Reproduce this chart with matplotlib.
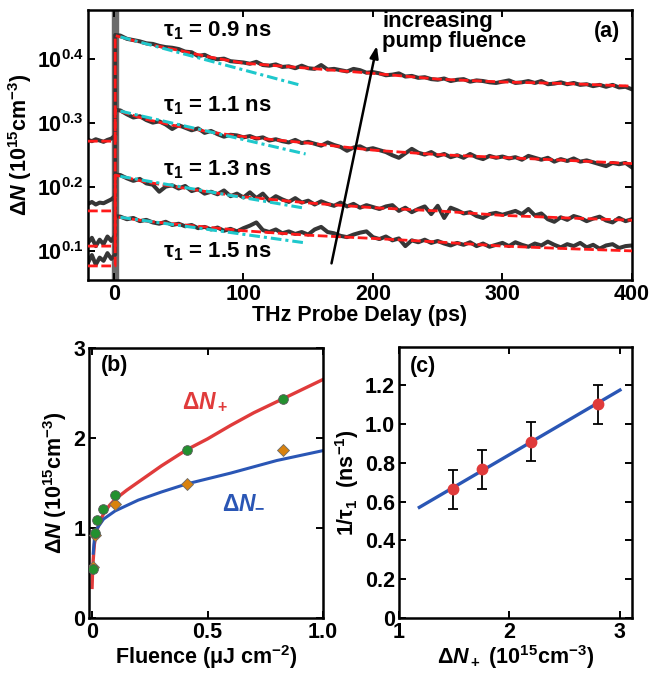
import numpy as np
import matplotlib
matplotlib.use("Agg")
import matplotlib.pyplot as plt
from matplotlib.ticker import NullLocator

plt.rcParams['font.family'] = ['Liberation Sans', 'DejaVu Sans']
plt.rcParams['font.weight'] = 'bold'
plt.rcParams['mathtext.fontset'] = 'custom'
plt.rcParams['mathtext.rm'] = 'Liberation Sans:bold'
plt.rcParams['mathtext.it'] = 'Liberation Sans:bold:italic'
plt.rcParams['mathtext.bf'] = 'Liberation Sans:bold'
plt.rcParams['mathtext.default'] = 'it'

# ---------------- Panel (a) data: log10(dN) ----------------
t_pre = [-20, -17, -14, -11, -8, -5, -2, 1, 1]
t_post = np.arange(5, 405, 5)

pre1 = [0.274, 0.272, 0.275, 0.273, 0.271, 0.274, 0.276, 0.281, 0.438]
pre2 = [0.174, 0.177, 0.173, 0.176, 0.175, 0.178, 0.181, 0.186, 0.321]
pre3 = [0.113, 0.121, 0.108, 0.118, 0.111, 0.123, 0.116, 0.125, 0.220]
pre4 = [0.082, 0.094, 0.079, 0.090, 0.085, 0.097, 0.088, 0.095, 0.155]

post1 = [0.437, 0.432, 0.430, 0.428, 0.425, 0.424, 0.421, 0.419, 0.418, 0.416,
         0.412, 0.411, 0.405, 0.407, 0.402, 0.400, 0.401, 0.397, 0.396, 0.395,
         0.393, 0.396, 0.391, 0.390, 0.392, 0.388, 0.389, 0.386, 0.390, 0.386,
         0.385, 0.391, 0.384, 0.385, 0.383, 0.381, 0.385, 0.383, 0.379, 0.380,
         0.378, 0.375, 0.376, 0.378, 0.373, 0.374, 0.371, 0.372, 0.369, 0.368,
         0.370, 0.366, 0.368, 0.369, 0.365, 0.367, 0.366, 0.364, 0.363, 0.365,
         0.367, 0.363, 0.364, 0.366, 0.363, 0.366, 0.361, 0.362, 0.364, 0.361,
         0.363, 0.360, 0.361, 0.358, 0.360, 0.357, 0.360, 0.356, 0.357, 0.353]
post2 = [0.320, 0.314, 0.309, 0.311, 0.305, 0.301, 0.303, 0.298, 0.291, 0.297,
         0.293, 0.289, 0.292, 0.285, 0.288, 0.283, 0.279, 0.282, 0.281, 0.278,
         0.280, 0.276, 0.278, 0.273, 0.275, 0.272, 0.270, 0.274, 0.269, 0.271,
         0.268, 0.265, 0.270, 0.266, 0.263, 0.257, 0.262, 0.264, 0.259, 0.261,
         0.258, 0.255, 0.250, 0.246, 0.253, 0.260, 0.254, 0.251, 0.255, 0.249,
         0.252, 0.247, 0.250, 0.246, 0.252, 0.247, 0.244, 0.249, 0.246, 0.248,
         0.245, 0.247, 0.243, 0.249, 0.246, 0.243, 0.246, 0.240, 0.244, 0.241,
         0.245, 0.240, 0.242, 0.239, 0.236, 0.233, 0.238, 0.236, 0.238, 0.231]
post3 = [0.219, 0.214, 0.210, 0.213, 0.206, 0.204, 0.193, 0.201, 0.203, 0.198,
         0.202, 0.194, 0.197, 0.190, 0.193, 0.189, 0.195, 0.186, 0.190, 0.184,
         0.192, 0.183, 0.190, 0.179, 0.186, 0.181, 0.177, 0.183, 0.176, 0.179,
         0.173, 0.178, 0.174, 0.171, 0.176, 0.170, 0.174, 0.168, 0.172, 0.169,
         0.166, 0.170, 0.172, 0.163, 0.168, 0.161, 0.166, 0.170, 0.158, 0.171,
         0.152, 0.168, 0.164, 0.159, 0.161, 0.155, 0.152, 0.158, 0.160, 0.157,
         0.160, 0.163, 0.158, 0.166, 0.156, 0.159, 0.150, 0.146, 0.153, 0.149,
         0.155, 0.152, 0.147, 0.151, 0.154, 0.148, 0.145, 0.152, 0.147, 0.150]
post4 = [0.154, 0.150, 0.152, 0.147, 0.149, 0.145, 0.143, 0.146, 0.141, 0.143,
         0.139, 0.141, 0.136, 0.138, 0.134, 0.137, 0.132, 0.135, 0.131, 0.136,
         0.140, 0.145, 0.133, 0.130, 0.134, 0.128, 0.131, 0.127, 0.130, 0.126,
         0.134, 0.138, 0.130, 0.128, 0.124, 0.122, 0.126, 0.129, 0.131, 0.122,
         0.119, 0.123, 0.117, 0.120, 0.108, 0.117, 0.114, 0.118, 0.113, 0.116,
         0.112, 0.109, 0.113, 0.110, 0.114, 0.108, 0.112, 0.107, 0.110, 0.113,
         0.108, 0.114, 0.110, 0.107, 0.112, 0.109, 0.115, 0.110, 0.106, 0.111,
         0.108, 0.113, 0.106, 0.110, 0.104, 0.109, 0.111, 0.105, 0.108, 0.109]

fit_t = [-20, 1, 1, 25, 50, 75, 100, 150, 200, 250, 300, 350, 400]
fit1 = [0.272, 0.272, 0.437, 0.424, 0.414, 0.403, 0.394, 0.386, 0.378, 0.369, 0.3645, 0.362, 0.358]
fit2 = [0.163, 0.163, 0.321, 0.306, 0.295, 0.286, 0.279, 0.269, 0.258, 0.251, 0.2465, 0.242, 0.237]
fit3 = [0.108, 0.108, 0.219, 0.208, 0.200, 0.192, 0.185, 0.1755, 0.168, 0.163, 0.156, 0.152, 0.1484]
fit4 = [0.077, 0.077, 0.154, 0.147, 0.142, 0.137, 0.132, 0.125, 0.120, 0.1145, 0.108, 0.104, 0.1005]

init_t = [[5, 145], [5, 148], [5, 148], [5, 148]]
init_v = [[0.435, 0.359], [0.319, 0.252], [0.217, 0.167], [0.153, 0.113]]

tau_labels = ['τ$_1$ = 0.9 ns', 'τ$_1$ = 1.1 ns', 'τ$_1$ = 1.3 ns', 'τ$_1$ = 1.5 ns']
tau_label_y = [0.445, 0.328, 0.227, 0.099]

# ---------------- Panel (b) data ----------------
flu_plus = [0.003, 0.013, 0.02, 0.049, 0.099, 0.412, 0.825]
dn_plus = [0.55, 0.95, 1.085, 1.21, 1.363, 1.871, 2.437]
flu_minus = [0.003, 0.013, 0.099, 0.412, 0.825]
dn_minus = [0.57, 0.92, 1.266, 1.493, 1.863]
curve_plus_x = [0.0, 0.002, 0.005, 0.01, 0.02, 0.035, 0.05, 0.075, 0.1, 0.15, 0.2, 0.3,
                0.41, 0.5, 0.6, 0.7, 0.83, 1.0]
curve_plus_y = [0.34, 0.5, 0.65, 0.82, 0.97, 1.08, 1.16, 1.25, 1.32, 1.42, 1.51, 1.69,
                1.87, 1.99, 2.14, 2.28, 2.44, 2.65]
curve_minus_x = [0.005, 0.01, 0.02, 0.05, 0.1, 0.2, 0.3, 0.41, 0.6, 0.8, 1.0]
curve_minus_y = [0.72, 0.88, 0.99, 1.10, 1.19, 1.31, 1.40, 1.49, 1.61, 1.75, 1.86]

# ---------------- Panel (c) data ----------------
dn_c = [1.49, 1.748, 2.195, 2.804]
inv_tau = [0.663, 0.766, 0.909, 1.103]
inv_tau_err = [0.1, 0.1, 0.1, 0.1]
line_c_x = [1.184, 3.0]
line_c_y = [0.570, 1.176]

FS = 15.5
FT = 16
RED = '#FF1A1A'
CYAN = '#1EC8CC'
DARK = '#363636'

fig = plt.figure(figsize=(6.49, 6.77), dpi=100)


def style(ax):
    ax.tick_params(which='both', direction='in', top=True, right=True,
                   length=5, width=1.4, labelsize=FS, pad=3)
    for s in ax.spines.values():
        s.set_linewidth(1.8)


# ---- (a)
ax = fig.add_axes([0.1356, 0.5864, 0.8382, 0.3988])
ax.set_yscale('log')
ax.axvspan(-1.3, 3.3, color='#6a6a6a', zorder=1)
for pre, post in [(pre1, post1), (pre2, post2), (pre3, post3), (pre4, post4)]:
    tt = list(t_pre) + list(t_post)
    vv = np.array(list(pre) + list(post))
    ax.plot(tt, 10 ** vv, color=DARK, lw=2.9, solid_joinstyle='round', zorder=2)
for k, fit in enumerate([fit1, fit2, fit3, fit4]):
    ax.plot(fit_t, 10 ** np.array(fit), color=RED, lw=2.0, dashes=(3.5, 1.3), zorder=3)
    ax.plot(init_t[k], 10 ** np.array(init_v[k]), color=CYAN, lw=2.2,
            dashes=(3.5, 1.3, 1.0, 1.3), zorder=4)
    ax.text(38, 10 ** tau_label_y[k], tau_labels[k], fontsize=FT, fontweight='bold',
            va='center', ha='left', zorder=5)
ax.annotate('', xy=(203, 10 ** 0.421), xytext=(168, 10 ** 0.081),
            arrowprops=dict(arrowstyle='-|>,head_length=0.7,head_width=0.25',
                            color='black', lw=1.8, shrinkA=0, shrinkB=0))
ax.text(207, 10 ** 0.443, 'increasing\npump fluence', fontsize=FT, fontweight='bold',
        va='center', ha='left', linespacing=0.92)
ax.text(381, 10 ** 0.443, '(a)', fontsize=FS, fontweight='bold', va='center', ha='center')
ax.set_xlim(-20, 400)
ax.set_ylim(10 ** 0.055, 10 ** 0.477)
ax.set_xticks([0, 100, 200, 300, 400])
ax.set_yticks([10 ** 0.1, 10 ** 0.2, 10 ** 0.3, 10 ** 0.4])
ax.set_yticklabels(['10$^{0.1}$', '10$^{0.2}$', '10$^{0.3}$', '10$^{0.4}$'])
ax.yaxis.set_minor_locator(NullLocator())
style(ax)
ax.set_xlabel('THz Probe Delay (ps)', fontsize=FS, fontweight='bold', labelpad=0)
ax.set_ylabel('Δ$N$ (10$^{15}$cm$^{-3}$)', fontsize=FS, fontweight='bold', labelpad=2)

# ---- (b)
bx = fig.add_axes([0.1376, 0.0871, 0.3601, 0.3989])
bx.plot(curve_plus_x, curve_plus_y, color='#E03B3B', lw=2.4, zorder=2)
bx.plot(curve_minus_x, curve_minus_y, color='#2A56B5', lw=2.2, zorder=2)
bx.plot(flu_minus, dn_minus, linestyle='none', marker='D', ms=6.5, mfc='#D9820E',
        mec='#6b6b6b', mew=0.6, zorder=3)
bx.plot(flu_plus, dn_plus, linestyle='none', marker='o', ms=7, mfc='#23902F',
        mec='#5a5a5a', mew=0.6, zorder=4)
bx.text(0.388, 2.4, 'Δ$N_+$', color='#E03B3B', fontsize=FS + 1, fontweight='bold',
        va='center', ha='left')
bx.text(0.561, 1.29, 'Δ$N_{-}$', color='#2A56B5', fontsize=FS + 1, fontweight='bold',
        va='center', ha='left')
bx.text(0.04, 2.81, '(b)', fontsize=FS, fontweight='bold', va='center', ha='left')
bx.set_xlim(-0.012, 1.0)
bx.set_ylim(0, 3)
bx.set_xticks([0, 0.5, 1.0])
bx.set_xticklabels(['0', '0.5', '1.0'])
bx.set_yticks([0, 1, 2, 3])
style(bx)
bx.set_xlabel('Fluence (μJ cm$^{-2}$)', fontsize=FS, fontweight='bold', labelpad=0)
bx.set_ylabel('Δ$N$ (10$^{15}$cm$^{-3}$)', fontsize=FS, fontweight='bold', labelpad=3)

# ---- (c)
cx = fig.add_axes([0.6148, 0.0876, 0.3585, 0.4003])
cx.plot(line_c_x, line_c_y, color='#2A56B5', lw=2.4, zorder=2)
cx.errorbar(dn_c, inv_tau, yerr=inv_tau_err, fmt='o', ms=7.5, mfc='#E03B3B',
            mec='#E03B3B', ecolor='black', elinewidth=1.3, capsize=3.6,
            capthick=1.3, zorder=3)
cx.text(1.1, 1.296, '(c)', fontsize=FS, fontweight='bold', va='center', ha='left')
cx.set_xlim(1, 3.106)
cx.set_ylim(0, 1.4)
cx.set_xticks([1, 2, 3])
cx.set_yticks([0, 0.2, 0.4, 0.6, 0.8, 1.0, 1.2])
cx.set_yticklabels(['0', '0.2', '0.4', '0.6', '0.8', '1.0', '1.2'])
style(cx)
cx.set_xlabel('Δ$N_+$ (10$^{15}$cm$^{-3}$)', fontsize=FS, fontweight='bold', labelpad=0)
cx.set_ylabel('1/τ$_1$  (ns$^{-1}$)', fontsize=FS, fontweight='bold', labelpad=3)

fig.savefig('out.png', dpi=100)
